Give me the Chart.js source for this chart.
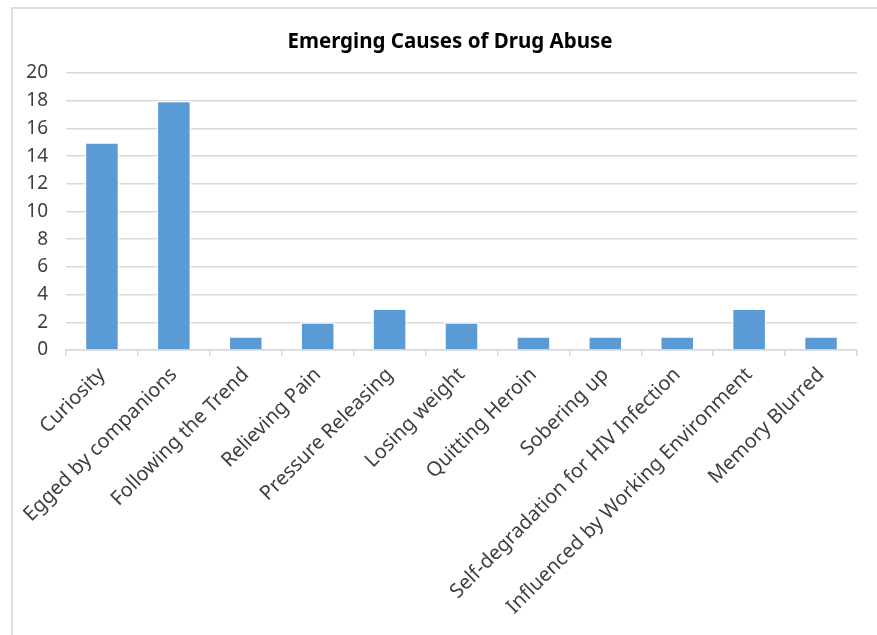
<!DOCTYPE html>
<html>
<head>
<meta charset="utf-8">
<script src="https://cdn.jsdelivr.net/npm/chart.js@4"></script>
<style>
    html, body { margin: 0; padding: 0; background: #fff; }
    #wrap { position: relative; width: 877px; height: 635px; overflow: hidden; }
    #frame { position: absolute; left: 11px; top: 7px; width: 900px; height: 700px; border: 2px solid #dedede; box-sizing: border-box; }
    #chart { position: absolute; left: 0; top: 0; }
</style>
</head>
<body>
<div id="wrap">
    <div id="frame"></div>
    <canvas id="chart" width="877" height="635"></canvas>
</div>
<script>
const causes = [
    'Curiosity', 'Egged by companions', 'Following the Trend', 'Relieving Pain',
    'Pressure Releasing', 'Losing weight', 'Quitting Heroin', 'Sobering up',
    'Self-degradation for HIV Infection', 'Influenced by Working Environment', 'Memory Blurred'
];
const counts = [15, 18, 1, 2, 3, 2, 1, 1, 1, 3, 1];
const yTicks = [0, 2, 4, 6, 8, 10, 12, 14, 16, 18, 20];

const font = "'Noto Sans', 'DejaVu Sans', sans-serif";
const gridColor = '#d9d9d9';

// keep the title centred a bit right of the canvas middle
const titleShift = {
    id: 'titleShift',
    afterLayout(chart) {
        if (chart.titleBlock) chart.titleBlock.left = 43;
    }
};

new Chart(document.getElementById('chart'), {
    type: 'bar',
    data: {
        labels: causes,
        datasets: [{
            data: counts,
            backgroundColor: '#5b9bd5',
            borderColor: '#ffffff',
            borderWidth: 1.5,
            categoryPercentage: 1,
            barPercentage: 0.48
        }]
    },
    options: {
        responsive: false,
        animation: false,
        layout: { padding: { left: 16, right: 20, top: 0, bottom: 0 } },
        plugins: {
            legend: { display: false },
            tooltip: { enabled: false },
            title: {
                display: true,
                text: 'Emerging Causes of Drug Abuse',
                color: '#000000',
                font: { family: font, size: 20.5, weight: 'bold' },
                padding: { top: 30, bottom: 18.4 }
            }
        },
        scales: {
            x: {
                grid: { display: true, drawOnChartArea: false, drawTicks: true, tickLength: 6, color: gridColor, lineWidth: 1.5, offset: true },
                border: { display: true, color: gridColor, width: 1.5 },
                ticks: {
                    color: '#404040',
                    font: { family: font, size: 20 },
                    maxRotation: 45,
                    minRotation: 45,
                    autoSkip: false,
                    padding: 7
                },
                afterFit: (scale) => { scale.height = 285; }
            },
            y: {
                min: yTicks[0],
                max: yTicks[yTicks.length - 1],
                afterBuildTicks: (scale) => { scale.ticks = yTicks.map(v => ({ value: v })); },
                grid: { color: gridColor, lineWidth: 1.5, drawTicks: false },
                border: { display: false },
                ticks: {
                    color: '#404040',
                    font: { family: font, size: 19 },
                    padding: 18
                },
                afterFit: (scale) => { scale.width = 50; }
            }
        }
    },
    plugins: [titleShift]
});
</script>
</body>
</html>
